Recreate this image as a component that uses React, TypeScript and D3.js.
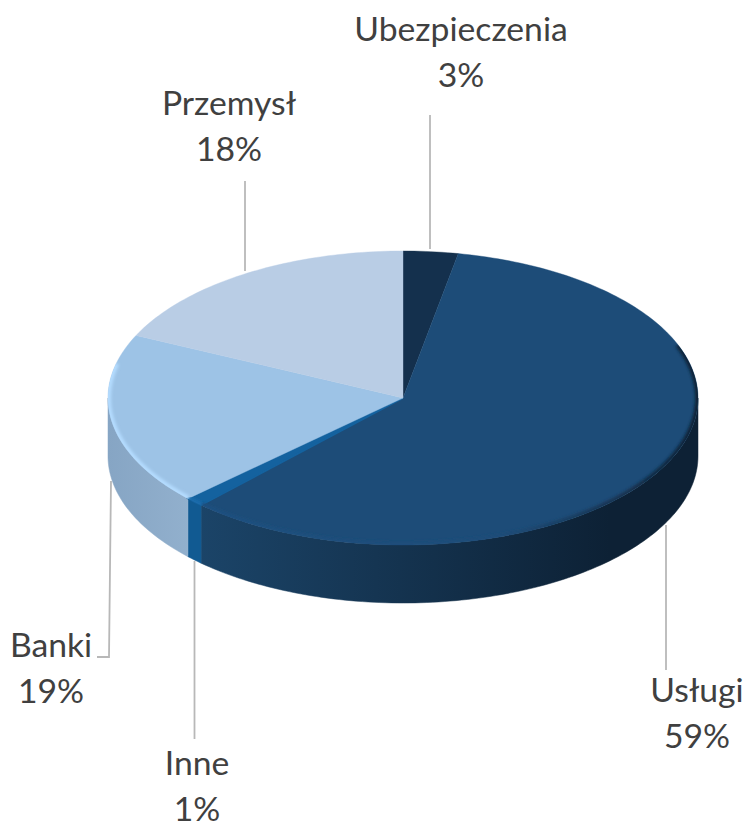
import React from "react";
import * as d3 from "d3";

const categories = ["Ubezpieczenia", "Usługi", "Inne", "Banki", "Przemysł"];
const values = [3, 59, 1, 19, 18];
const topColors = ["#14304d", "#1d4c78", "#14629f", "#9dc3e6", "#b9cde5"];
const wallDark = ["#0d2135", "#0d2135", "#115a92", "#86a5c4", "#86a5c4"];
const wallLight = ["#14304d", "#1b4468", "#115a92", "#92b0cd", "#92b0cd"];
const rimColors = ["#14304d", "#1f5080", "#1a6cac", "#b4dcff", "#c4d8ee"];
const labelX = [461, 697, 197, 51, 229];
const labelY = [41, 702, 775, 657, 115];
const leaders: [number, number][][] = [
  [[430, 115], [430, 249]],
  [[666, 525], [666, 670]],
  [[194.5, 561], [194.5, 739]],
  [[111, 481], [109, 657], [97, 657]],
  [[245, 181], [245, 271]],
];

const W = 747, H = 828;
const cx = 403, cy = 398, rx = 295, ry = 147, depth = 58;
const rimLo = 1.2, rimHi = 4.95;
const px = d3.scaleLinear().domain([-1, 1]).range([cx - rx, cx + rx]);
const py = d3.scaleLinear().domain([-1, 1]).range([cy - ry, cy + ry]);
const pt = (a: number, dy = 0): [number, number] => [px(Math.sin(a)), py(-Math.cos(a)) + dy];
const samples = (a0: number, a1: number) => {
  const n = Math.max(2, Math.ceil((a1 - a0) / 0.02));
  return d3.range(n + 1).map((i) => a0 + ((a1 - a0) * i) / n);
};
const line = d3.line();
const pie = d3.pie<number>().sort(null)(values);

export default function App() {
  const topPath = (a0: number, a1: number) =>
    line([[cx, cy], ...samples(a0, a1).map((a) => pt(a))])! + "Z";
  const rimPath = (a0: number, a1: number) => {
    const lo = Math.max(a0, rimLo), hi = Math.min(a1, rimHi);
    return hi > lo ? line(samples(lo, hi).map((a) => pt(a))) : null;
  };
  const wallPath = (a0: number, a1: number) => {
    const lo = Math.max(a0, Math.PI / 2), hi = Math.min(a1, (3 * Math.PI) / 2);
    if (hi <= lo) return null;
    const s = samples(lo, hi);
    return line([...s.map((a) => pt(a)), ...s.slice().reverse().map((a) => pt(a, depth))])! + "Z";
  };
  return (
    <svg width={W} height={H} style={{ position: "absolute", left: 0, top: 0, background: "#fff" }}>
      <defs>
        <filter id="soft" x="-10%" y="-10%" width="120%" height="120%">
          <feGaussianBlur stdDeviation="1.5" />
        </filter>
        {pie.map((d, i) => {
          const lo = Math.max(d.startAngle, Math.PI / 2), hi = Math.min(d.endAngle, (3 * Math.PI) / 2);
          if (hi <= lo) return null;
          return (
            <linearGradient key={i} id={`wall${i}`} gradientUnits="userSpaceOnUse"
              x1={i === 1 ? 200 : 107} x2={i === 1 ? 610 : 190} y1={0} y2={0}>
              <stop offset="0" stopColor={i === 3 ? wallDark[i] : wallLight[i]} />
              <stop offset="1" stopColor={i === 3 ? wallLight[i] : wallDark[i]} />
            </linearGradient>
          );
        })}
        <linearGradient id="rimUslugi" gradientUnits="userSpaceOnUse" x1={200} x2={700} y1={0} y2={0}>
          <stop offset="0" stopColor={rimColors[1]} />
          <stop offset="0.6" stopColor={topColors[1]} />
          <stop offset="1" stopColor={wallDark[1]} />
        </linearGradient>
        <clipPath id="topClip">
          <path d={topPath(0, 2 * Math.PI)} />
        </clipPath>
      </defs>
      {pie.map((d, i) => {
        const w = wallPath(d.startAngle, d.endAngle);
        return w ? <path key={i} d={w} fill={`url(#wall${i})`} stroke={`url(#wall${i})`} strokeWidth={0.5} /> : null;
      })}
      {pie.map((d, i) => (
        <path key={i} d={topPath(d.startAngle, d.endAngle)} fill={topColors[i]} stroke={topColors[i]} strokeWidth={i === 2 ? 1.6 : 0.4} />
      ))}
      <g clipPath="url(#topClip)">
        {pie.map((d, i) => {
          const r = rimPath(d.startAngle, d.endAngle);
          return r ? (
            <path key={i} d={r} fill="none" stroke={i === 1 ? "url(#rimUslugi)" : rimColors[i]} strokeWidth={6} filter="url(#soft)" />
          ) : null;
        })}
      </g>
      {leaders.map((l, i) => (
        <path key={i} d={line(l)!} fill="none" stroke="#b8b8b8" strokeWidth={1.8} />
      ))}
      {categories.map((c, i) => (
        <text key={c} textAnchor="middle" fontFamily="Lato, 'Open Sans', sans-serif" fontSize={33.7} fill="#404040">
          <tspan x={labelX[i]} y={labelY[i]}>{c}</tspan>
          <tspan x={labelX[i]} y={labelY[i] + 46}>{values[i]}%</tspan>
        </text>
      ))}
    </svg>
  );
}
